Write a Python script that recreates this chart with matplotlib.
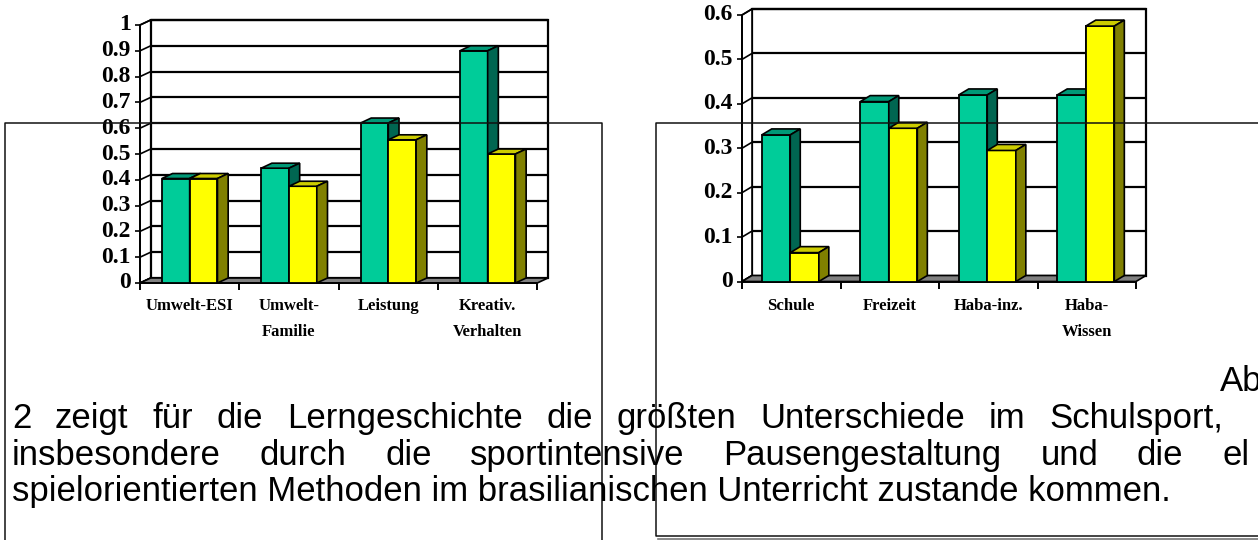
import matplotlib
matplotlib.use("Agg")
import matplotlib.pyplot as plt
import matplotlib.transforms as mtransforms
from matplotlib.patches import Polygon
from matplotlib.lines import Line2D

W, H, DPI = 1258, 540, 100

# ---------------- data ----------------
left_categories = [["Umwelt-ESI"], ["Umwelt-", "Familie"], ["Leistung"], ["Kreativ.", "Verhalten"]]
left_green = [0.405, 0.445, 0.62, 0.90]
left_yellow = [0.405, 0.375, 0.555, 0.50]
left_yticks = [0, 0.1, 0.2, 0.3, 0.4, 0.5, 0.6, 0.7, 0.8, 0.9, 1.0]
left_ytick_labels = ["0", "0.1", "0.2", "0.3", "0.4", "0.5", "0.6", "0.7", "0.8", "0.9", "1"]

right_categories = [["Schule"], ["Freizeit"], ["Haba-inz."], ["Haba-", "Wissen"]]
right_green = [0.33, 0.405, 0.42, 0.42]
right_yellow = [0.065, 0.345, 0.295, 0.575]
right_yticks = [0, 0.1, 0.2, 0.3, 0.4, 0.5, 0.6]
right_ytick_labels = ["0", "0.1", "0.2", "0.3", "0.4", "0.5", "0.6"]

text_line1 = ["2", "zeigt", "für", "die", "Lerngeschichte", "die", "größten",
              "Unterschiede", "im", "Schulsport,"]
text_line2 = ["insbesondere", "durch", "die", "sportintensive", "Pausengestaltung",
              "und", "die", "el"]
text_line3 = "spielorientierten Methoden im brasilianischen Unterricht zustande kommen."
text_fragment = "Ab"

# ---------------- style ----------------
GREEN = ("#00CC99", "#009977", "#006651")   # front, top, side
YELLOW = ("#FFFF00", "#CCCC00", "#808000")
FLOOR = "#808080"
SERIF = "Liberation Serif"
SANS = "Liberation Sans"

fig = plt.figure(figsize=(W / DPI, H / DPI), dpi=DPI)
fig.patch.set_facecolor("white")


def px_axes(x0, x1, y_top, y_bottom):
    """axes whose data frame is the front plane, given in pixel coords"""
    return fig.add_axes([x0 / W, (H - y_bottom) / H, (x1 - x0) / W, (y_bottom - y_top) / H])


def draw_chart(ax, cats, green, yellow, yticks, ylabels, ymax, depth, bar_x0, bar_w,
               cat_offsets):
    n = len(cats)
    ax.set_xlim(0, n)
    ax.set_ylim(0, ymax)
    ax.axis("off")
    T = ax.transData
    ident = mtransforms.IdentityTransform()
    dx, dy = depth

    def P(x, y, back=False):
        px, py = T.transform((x, y))
        if back:
            px += dx
            py += dy
        return (px, py)

    def poly(pts, z, **kw):
        ax.add_patch(Polygon(pts, closed=True, transform=ident, clip_on=False, zorder=z, **kw))

    def seg(p, q, z, lw=1.5, color="black"):
        ax.add_line(Line2D([p[0], q[0]], [p[1], q[1]], transform=ident, clip_on=False,
                           zorder=z, lw=lw, color=color, solid_capstyle="butt"))

    # back wall
    poly([P(0, 0, 1), P(n, 0, 1), P(n, ymax, 1), P(0, ymax, 1)], 1,
         facecolor="white", edgecolor="black", lw=1.6)
    for v in yticks[1:]:
        seg(P(0, v, 1), P(n, v, 1), 2, lw=1.6)
    # left side wall
    poly([P(0, 0), P(0, 0, 1), P(0, ymax, 1), P(0, ymax)], 1,
         facecolor="white", edgecolor="black", lw=1.2)
    for v in yticks:
        seg(P(0, v), P(0, v, 1), 2, lw=1.2)
        p = P(0, v)
        seg((p[0] - 5, p[1]), p, 2, lw=1.2)
    # floor
    poly([P(0, 0), P(n, 0), P(n, 0, 1), P(0, 0, 1)], 3,
         facecolor=FLOOR, edgecolor="black", lw=1.2)
    seg(P(0, 0), P(n, 0), 4, lw=1.4)
    seg(P(0, 0), P(0, ymax), 4, lw=1.4)
    for i in range(n + 1):
        p = P(i, 0)
        seg(p, (p[0], p[1] - 7), 4, lw=1.4)

    # bars
    lefts = [i + bar_x0 for i in range(n)]
    for series, colors, shift in ((green, GREEN, 0.0), (yellow, YELLOW, bar_w)):
        xs = [l + shift for l in lefts]
        ax.bar(xs, series, width=bar_w, align="edge", color=colors[0],
               edgecolor="black", linewidth=1.3, zorder=5, clip_on=False)
    # 3d faces (green first, then yellow)
    for i in range(n):
        for val, colors, shift in ((green[i], GREEN, 0.0), (yellow[i], YELLOW, bar_w)):
            x0 = lefts[i] + shift
            x1 = x0 + bar_w
            z = 6 if colors is GREEN else 8
            poly([P(x0, val), P(x1, val), P(x1, val, 1), P(x0, val, 1)], z,
                 facecolor=colors[1], edgecolor="black", lw=1.2)
            poly([P(x1, 0), P(x1, val), P(x1, val, 1), P(x1, 0, 1)], z,
                 facecolor=colors[2], edgecolor="black", lw=1.2)
        # redraw yellow front above green side
        pass

    # y tick labels
    lab_tr = mtransforms.offset_copy(T, fig=fig, x=-9, y=0, units="dots")
    for v, s in zip(yticks, ylabels):
        ax.text(0, v, s, transform=lab_tr, ha="right", va="center", fontsize=17,
                fontweight="bold", family=SERIF, clip_on=False)

    # category labels
    for i, lines in enumerate(cats):
        for k, s in enumerate(lines):
            tr = mtransforms.offset_copy(T, fig=fig, x=0, y=-cat_offsets[k], units="dots")
            ax.text(i + 0.5, 0, s, transform=tr, ha="center", va="center", fontsize=12,
                    fontweight="bold", family=SERIF, clip_on=False)


# yellow front faces must cover green side faces: ax.bar zorder 5, green faces 6 -> fix by
# drawing yellow bars again above green side faces
def chart(x0, x1, y_top, y_bottom, *args):
    ax = px_axes(x0, x1, y_top, y_bottom)
    draw_chart(ax, *args)
    return ax


axL = px_axes(140, 537.3, 25, 283)
axR = px_axes(742, 1136, 15, 281.5)

for ax, cats, g, yl, yt, ytl, ymax, depth, bx0, bw, offs in (
        (axL, left_categories, left_green, left_yellow, left_yticks, left_ytick_labels,
         1.0, (10.7, 5), 0.22, 0.28, (23, 49)),
        (axR, right_categories, right_green, right_yellow, right_yticks, right_ytick_labels,
         0.6, (10, 6), 0.20, 0.29, (24, 50))):
    draw_chart(ax, cats, g, yl, yt, ytl, ymax, depth, bx0, bw, offs)
    # yellow front faces on top of green side faces
    ax.bar([i + bx0 + bw for i in range(len(cats))], yl, width=bw, align="edge",
           color=YELLOW[0], edgecolor="black", linewidth=1.3, zorder=7, clip_on=False)

# ---------------- page overlay: boxes + paragraph ----------------
pax = fig.add_axes([0, 0, 1, 1])
pax.set_zorder(10)
pax.set_xlim(0, W)
pax.set_ylim(H, 0)
pax.axis("off")

box_c = "#111111"
pax.add_line(Line2D([5, 5, 602, 602], [545, 123, 123, 545], color=box_c, lw=1.1))
pax.add_line(Line2D([1262, 656, 656, 1262], [123, 123, 536, 536], color=box_c, lw=1.1))
pax.add_line(Line2D([658, 1262], [538.5, 538.5], color="#777777", lw=1.2))

FS = 25
renderer = fig.canvas.get_renderer()


def justified(words, y, x_start, x_target, last_start=False):
    ts = [pax.text(0, y, w, fontsize=FS, family=SANS, va="baseline", ha="left") for w in words]
    ws = [t.get_window_extent(renderer).width for t in ts]
    if last_start:
        gap = (x_target - x_start - sum(ws[:-1])) / (len(words) - 1)
    else:
        gap = (x_target - x_start - sum(ws)) / (len(words) - 1)
    x = x_start
    for t, w in zip(ts, ws):
        t.set_x(x)
        x += w + gap


justified(text_line1, 428, 12, 1223)
justified(text_line2, 465, 12, 1222, last_start=True)
pax.text(12, 501, text_line3, fontsize=FS, family=SANS, va="baseline", ha="left")
pax.text(1220, 391, text_fragment, fontsize=FS, family=SANS, va="baseline", ha="left")

fig.savefig("out.png", dpi=DPI)
